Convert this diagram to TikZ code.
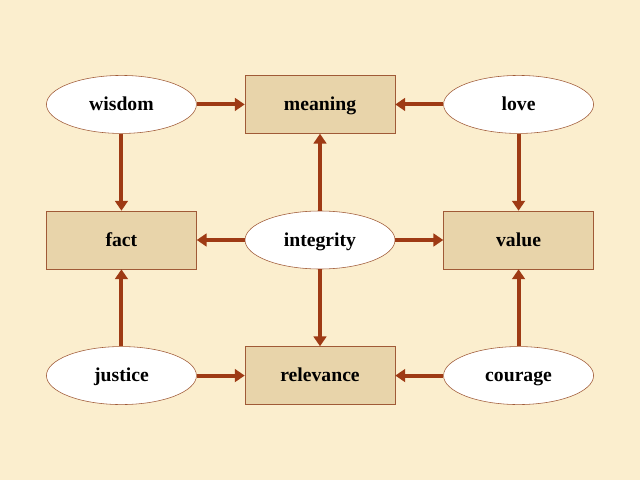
\documentclass[tikz,border=0pt]{standalone}
\usepackage{fontspec}
\setmainfont{Liberation Serif}
\usetikzlibrary{arrows.meta,shapes,positioning}
\definecolor{Parchment}{RGB}{251,238,206}
\definecolor{Sand}{RGB}{232,212,170}
\definecolor{Rust}{RGB}{158,58,20}
\definecolor{Umber}{RGB}{160,90,55}

\begin{document}
\begin{tikzpicture}[node distance=1.925cm and 1.2cm,
  word/.style={inner sep=0pt,minimum width=3.75cm,minimum height=1.45cm,
    text height=0.9em,text depth=0pt,
    font=\fontsize{14}{16}\selectfont\bfseries},
  ell/.style={word,ellipse,draw=Umber,fill=white},
  box/.style={word,rectangle,draw=Umber,fill=Sand},
  link/.style={Rust,line width=2.8pt,-{Triangle[length=7pt,width=9pt]}}]
\fill[Parchment] (0,0) rectangle (16,12);
%
\node[ell] (integrity) at (8,6) {integrity};
\node[box,above=of integrity] (meaning) {meaning};
\node[box,below=of integrity] (relevance) {relevance};
\node[box,left=of integrity] (fact) {fact};
\node[box,right=of integrity] (value) {value};
\node[ell,left=of meaning] (wisdom) {wisdom};
\node[ell,right=of meaning] (love) {love};
\node[ell,left=of relevance] (justice) {justice};
\node[ell,right=of relevance] (courage) {courage};
%
\draw[link] (wisdom) -- (meaning);
\draw[link] (love) -- (meaning);
\draw[link] (wisdom) -- (fact);
\draw[link] (love) -- (value);
\draw[link] (justice) -- (fact);
\draw[link] (justice) -- (relevance);
\draw[link] (courage) -- (relevance);
\draw[link] (courage) -- (value);
\draw[link] (integrity) -- (meaning);
\draw[link] (integrity) -- (fact);
\draw[link] (integrity) -- (value);
\draw[link] (integrity) -- (relevance);
%
\end{tikzpicture}
\end{document}
